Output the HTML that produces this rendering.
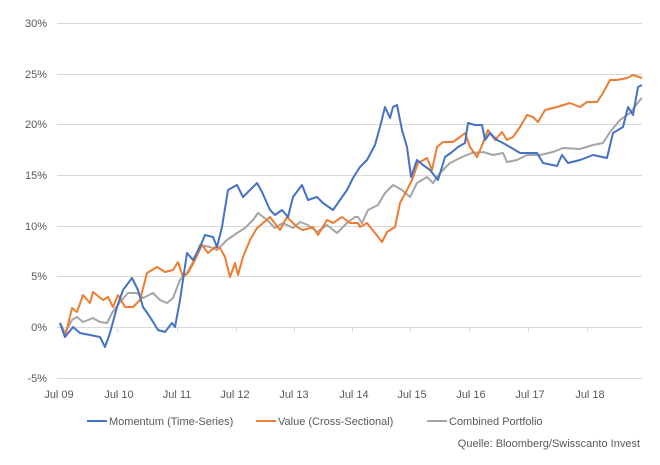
<!DOCTYPE html>
<html><head><meta charset="utf-8"><style>
body{margin:0;background:#fff;width:660px;height:460px;overflow:hidden}
svg text{font-family:"Liberation Sans",sans-serif;font-size:11px;fill:#595959}
</style></head><body>
<svg width="660" height="460" xmlns="http://www.w3.org/2000/svg">
<g stroke="#d9d9d9" stroke-width="1">
<line x1="57" x2="642" y1="23.5" y2="23.5"/><line x1="57" x2="642" y1="74.5" y2="74.5"/>
<line x1="57" x2="642" y1="124.5" y2="124.5"/><line x1="57" x2="642" y1="175.5" y2="175.5"/>
<line x1="57" x2="642" y1="226.5" y2="226.5"/><line x1="57" x2="642" y1="276.5" y2="276.5"/>
<line x1="57" x2="642" y1="327.5" y2="327.5"/><line x1="57" x2="642" y1="378.5" y2="378.5"/>
<line x1="117.5" x2="117.5" y1="327" y2="332"/><line x1="177.5" x2="177.5" y1="327" y2="332"/>
<line x1="236.5" x2="236.5" y1="327" y2="332"/><line x1="294.5" x2="294.5" y1="327" y2="332"/>
<line x1="352.5" x2="352.5" y1="327" y2="332"/><line x1="410.5" x2="410.5" y1="327" y2="332"/>
<line x1="469.5" x2="469.5" y1="327" y2="332"/><line x1="528.5" x2="528.5" y1="327" y2="332"/>
<line x1="587.5" x2="587.5" y1="327" y2="332"/>
</g>
<g text-anchor="end">
<text x="47" y="27">30%</text><text x="47" y="78">25%</text><text x="47" y="128">20%</text>
<text x="47" y="179">15%</text><text x="47" y="230">10%</text><text x="47" y="280">5%</text>
<text x="47" y="331">0%</text><text x="47" y="382">-5%</text>
</g>
<g text-anchor="middle">
<text x="59" y="398">Jul 09</text><text x="119" y="398">Jul 10</text><text x="177" y="398">Jul 11</text>
<text x="235" y="398">Jul 12</text><text x="294" y="398">Jul 13</text><text x="354" y="398">Jul 14</text>
<text x="412" y="398">Jul 15</text><text x="471" y="398">Jul 16</text><text x="530" y="398">Jul 17</text>
<text x="590" y="398">Jul 18</text>
</g>
<g fill="none" stroke-width="2" stroke-linejoin="round">
<polyline stroke="#a5a5a5" points="60,323 65,333 72,320 77,317 83,322 93,318 100,322 107,323 112,313 120,302 128,293 137,293 143,298 153,293 160,300 167,303 173,298 180,280 187,273 193,262 200,245 210,247 217,250 227,240 237,233 245,228 253,220 258,213 267,220 275,228 283,223 293,228 300,222 308,225 317,232 327,225 337,233 347,223 355,217 358,217 362,223 368,210 378,205 385,193 393,185 402,190 410,197 417,183 427,177 433,183 440,173 450,163 462,157 472,153 483,152 493,155 503,153 507,162 517,160 527,155 540,155 553,152 563,148 580,149 593,145 603,143 610,132 620,120 630,113 640,100 642,98"/>
<polyline stroke="#ed7d31" points="60,323 65,337 72,308 77,312 83,295 90,303 93,292 103,300 108,297 113,307 118,295 125,307 133,307 140,300 147,273 157,267 165,272 173,270 178,262 183,277 188,273 195,260 202,245 208,253 215,247 220,248 225,257 230,277 235,263 238,275 243,257 250,240 257,228 263,223 270,217 280,230 287,217 297,227 303,230 313,227 318,235 327,220 333,223 342,217 350,223 358,223 360,227 367,223 375,233 382,242 387,232 395,227 400,203 407,190 412,180 418,163 427,158 432,170 437,147 443,142 453,142 460,137 465,133 470,147 477,157 483,143 488,130 495,140 502,132 507,140 513,137 520,127 527,115 533,117 538,122 545,110 557,107 570,103 580,107 587,102 597,102 603,93 610,80 617,80 627,78 633,75 642,78"/>
<polyline stroke="#4472c4" points="60,323 65,337 73,327 80,333 90,335 100,337 105,347 110,333 117,307 123,290 132,278 138,290 143,307 150,317 158,330 165,332 172,323 175,327 180,300 187,253 193,260 200,247 205,235 213,237 217,247 222,227 228,190 237,185 243,197 250,190 257,183 262,192 270,210 275,215 282,210 288,217 293,197 302,185 308,200 317,197 323,203 333,210 340,200 347,190 353,178 360,167 367,160 375,145 380,127 385,107 390,118 393,107 397,105 402,130 407,147 411,177 417,160 423,165 430,170 438,180 445,157 452,152 458,147 465,143 468,123 475,125 482,125 485,140 490,133 497,140 503,143 510,147 520,153 537,153 543,163 557,166 562,155 568,163 580,160 593,155 607,158 613,133 623,127 628,107 633,115 638,87 642,85"/>
</g>
<g stroke-width="2">
<line x1="87" x2="107" y1="421" y2="421" stroke="#4472c4"/>
<line x1="256" x2="276" y1="421" y2="421" stroke="#ed7d31"/>
<line x1="427" x2="447" y1="421" y2="421" stroke="#a5a5a5"/>
</g>
<text x="109" y="425">Momentum (Time-Series)</text>
<text x="278" y="425">Value (Cross-Sectional)</text>
<text x="449" y="425">Combined Portfolio</text>
<text x="640" y="447" text-anchor="end">Quelle: Bloomberg/Swisscanto Invest</text>
</svg>
</body></html>
